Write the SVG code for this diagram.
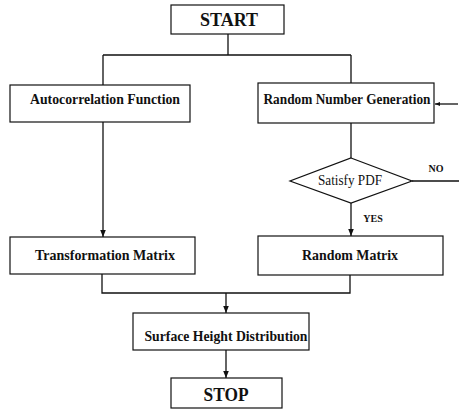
<svg xmlns="http://www.w3.org/2000/svg" width="459" height="412" viewBox="0 0 459 412">
<style>
.box{fill:#fff;stroke:#111;stroke-width:1.2}
.ln{fill:none;stroke:#111;stroke-width:1.3}
text{font-family:"Liberation Serif","Times New Roman",serif;fill:#111;text-anchor:middle}
.t{font-size:15px;font-weight:bold}
.d{font-size:14px}
.b{font-size:18px;font-weight:bold}
.s{font-size:10px;font-weight:bold}
</style>
<defs>
<marker id="ah" viewBox="0 0 10 10" refX="10" refY="5" markerWidth="7" markerHeight="7" orient="auto" markerUnits="userSpaceOnUse">
<path d="M0,1 L10,5 L0,9 z" fill="#111"/>
</marker>
<marker id="ahs" viewBox="0 0 10 10" refX="10" refY="5" markerWidth="5" markerHeight="5" orient="auto" markerUnits="userSpaceOnUse">
<path d="M0,1 L10,5 L0,9 z" fill="#111"/>
</marker>
</defs>
<g id="connectors">
<path class="ln" d="M228,34 V55 M103,55 H351 M103,55 V85 M351,55 V83"/>
<path class="ln" d="M103,122 V237" marker-end="url(#ah)"/>
<path class="ln" d="M351,123 V158"/>
<path class="ln" d="M351,203 V236" marker-end="url(#ah)"/>
<path class="ln" d="M412,181 H459"/>
<path class="ln" d="M458,104 H435" marker-end="url(#ahs)"/>
<path class="ln" d="M102,274 V293 H350 V275"/>
<path class="ln" d="M226,293 V313" marker-end="url(#ah)"/>
<path class="ln" d="M226,350 V378" marker-end="url(#ah)"/>
<text class="s" x="436" y="172">NO</text>
<text class="s" x="373" y="222">YES</text>
</g>
<g id="start">
<rect class="box" x="171" y="5" width="113" height="29"/>
<text class="b" x="229" y="26" textLength="58" lengthAdjust="spacingAndGlyphs">START</text>
</g>
<g id="autocorrelation">
<rect class="box" x="10" y="85" width="180" height="37"/>
<text class="t" x="105" y="104" textLength="150" lengthAdjust="spacingAndGlyphs">Autocorrelation Function</text>
</g>
<g id="random-number">
<rect class="box" x="258" y="83" width="176" height="40"/>
<text class="t" x="347" y="104" textLength="167" lengthAdjust="spacingAndGlyphs">Random Number Generation</text>
</g>
<g id="satisfy-pdf">
<polygon class="box" points="351,158 412,181 351,203 290,181"/>
<text class="d" x="350" y="185" textLength="64" lengthAdjust="spacingAndGlyphs">Satisfy PDF</text>
</g>
<g id="transformation">
<rect class="box" x="10" y="237" width="185" height="37"/>
<text class="t" x="105" y="260" textLength="140" lengthAdjust="spacingAndGlyphs">Transformation Matrix</text>
</g>
<g id="random-matrix">
<rect class="box" x="258" y="236" width="185" height="39"/>
<text class="t" x="350" y="260" textLength="96" lengthAdjust="spacingAndGlyphs">Random Matrix</text>
</g>
<g id="surface">
<rect class="box" x="133" y="313" width="176" height="37"/>
<text class="t" x="226" y="341" textLength="163" lengthAdjust="spacingAndGlyphs">Surface Height Distribution</text>
</g>
<g id="stop">
<rect class="box" x="171" y="378" width="111" height="30"/>
<text class="b" x="226" y="401" textLength="45" lengthAdjust="spacingAndGlyphs">STOP</text>
</g>
</svg>
